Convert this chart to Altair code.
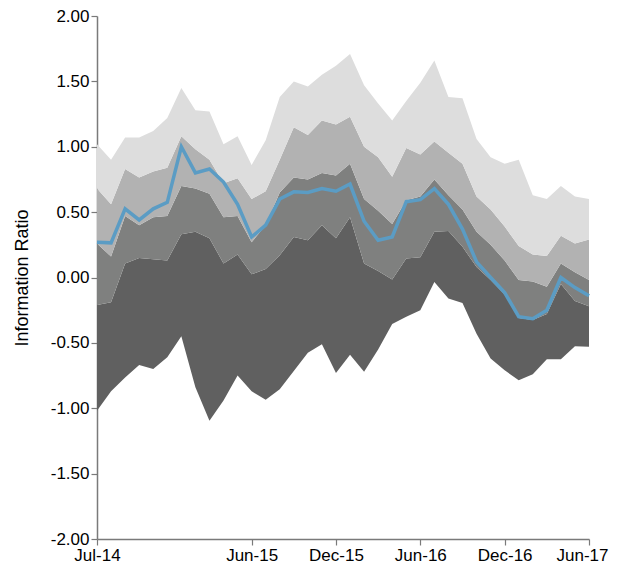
import altair as alt
import pandas as pd

months = ["Jul-14", "Aug-14", "Sep-14", "Oct-14", "Nov-14", "Dec-14",
          "Jan-15", "Feb-15", "Mar-15", "Apr-15", "May-15", "Jun-15",
          "Jul-15", "Aug-15", "Sep-15", "Oct-15", "Nov-15", "Dec-15",
          "Jan-16", "Feb-16", "Mar-16", "Apr-16", "May-16", "Jun-16",
          "Jul-16", "Aug-16", "Sep-16", "Oct-16", "Nov-16", "Dec-16",
          "Jan-17", "Feb-17", "Mar-17", "Apr-17", "May-17", "Jun-17"]

min_v = [-1.02, -0.87, -0.765, -0.67, -0.70, -0.61, -0.45, -0.84, -1.095, -0.94, -0.75, -0.87,
         -0.935, -0.855, -0.715, -0.575, -0.51, -0.73, -0.59, -0.72, -0.55, -0.355, -0.30, -0.25,
         -0.035, -0.16, -0.195, -0.43, -0.62, -0.71, -0.785, -0.74, -0.625, -0.625, -0.525, -0.53]
q25 = [-0.21, -0.19, 0.107, 0.15, 0.14, 0.13, 0.33, 0.35, 0.30, 0.107, 0.175, 0.024,
       0.065, 0.17, 0.31, 0.285, 0.40, 0.30, 0.46, 0.107, 0.05, -0.015, 0.145, 0.155,
       0.35, 0.355, 0.235, 0.08, -0.02, -0.13, -0.31, -0.325, -0.28, -0.05, -0.18, -0.22]
median = [0.26, 0.16, 0.47, 0.40, 0.46, 0.47, 0.70, 0.68, 0.64, 0.46, 0.47, 0.27,
          0.40, 0.65, 0.765, 0.75, 0.80, 0.78, 0.87, 0.60, 0.51, 0.41, 0.59, 0.62,
          0.75, 0.63, 0.52, 0.35, 0.25, 0.13, -0.02, -0.03, -0.07, 0.107, 0.04, -0.02]
q75 = [0.68, 0.56, 0.83, 0.765, 0.81, 0.84, 1.08, 0.98, 0.90, 0.72, 0.76, 0.60,
       0.66, 0.90, 1.15, 1.09, 1.20, 1.17, 1.23, 1.00, 0.92, 0.77, 0.99, 0.94,
       1.04, 0.955, 0.87, 0.62, 0.52, 0.39, 0.24, 0.175, 0.165, 0.32, 0.26, 0.29]
max_v = [1.02, 0.90, 1.07, 1.07, 1.12, 1.22, 1.45, 1.28, 1.27, 1.02, 1.08, 0.86,
         1.05, 1.38, 1.50, 1.46, 1.55, 1.62, 1.71, 1.47, 1.33, 1.20, 1.35, 1.49,
         1.66, 1.38, 1.37, 1.06, 0.92, 0.87, 0.90, 0.63, 0.60, 0.70, 0.62, 0.60]
fund = [0.27, 0.265, 0.525, 0.44, 0.525, 0.575, 1.00, 0.80, 0.83, 0.73, 0.56, 0.31,
        0.40, 0.60, 0.655, 0.65, 0.68, 0.66, 0.715, 0.43, 0.285, 0.31, 0.58, 0.595,
        0.68, 0.56, 0.37, 0.12, 0.0, -0.115, -0.30, -0.315, -0.25, 0.0, -0.077, -0.14]

x_tick_labels = ["Jul-14", "Jun-15", "Dec-15", "Jun-16", "Dec-16", "Jun-17"]
y_ticks = [-2.0, -1.5, -1.0, -0.5, 0.0, 0.5, 1.0, 1.5, 2.0]

bands = ["min-q25", "q25-median", "median-q75", "q75-max"]
band_colors = ["#606060", "#7f807f", "#b2b2b2", "#dddddd"]
bounds = [min_v, q25, median, q75, max_v]

rows = []
for k, b in enumerate(bands):
    for i in range(len(months)):
        rows.append({"i": i, "band": b, "lo": bounds[k][i], "hi": bounds[k + 1][i]})
band_df = pd.DataFrame(rows)
line_df = pd.DataFrame({"i": list(range(len(months))), "v": fund})

x_tick_idx = [months.index(m) for m in x_tick_labels]
last_idx = len(months) - 1
label_expr = "[" + ",".join("'%s'" % m for m in months) + "][datum.value]"

x_enc = alt.X("i:Q",
              scale=alt.Scale(domain=[0, last_idx], nice=False, zero=False),
              axis=alt.Axis(values=x_tick_idx, labelExpr=label_expr, title=None, grid=False,
                            labelFlush=False, labelOverlap=False, labelBound=False,
                            labelOffset=alt.condition("datum.value == %d" % last_idx,
                                                      alt.value(-7), alt.value(0))))
y_axis = alt.Axis(values=y_ticks,
                  labelExpr="(datum.value < 0 ? '-' : '') + format(abs(datum.value), '.2f')",
                  title="Information Ratio", grid=False, labelOverlap=False)

area = alt.Chart(band_df).mark_area(interpolate="linear").encode(
    x=x_enc,
    y=alt.Y("lo:Q", scale=alt.Scale(domain=[-2, 2], nice=False, zero=False), axis=y_axis),
    y2="hi:Q",
    color=alt.Color("band:N", scale=alt.Scale(domain=bands, range=band_colors), legend=None),
    detail="band:N",
)

line = alt.Chart(line_df).mark_line(color="#5b9cc4", strokeWidth=3.5).encode(
    x=alt.X("i:Q"),
    y=alt.Y("v:Q"),
)

chart = alt.layer(area, line).properties(
    width=492,
    height=523,
    padding={"left": 89, "top": 8, "right": 20, "bottom": 24},
    autosize=alt.AutoSizeParams(type="none"),
).configure_view(stroke=None).configure_axis(
    labelFont="Liberation Sans",
    titleFont="Liberation Sans",
    labelFontSize=17,
    titleFontSize=18,
    titleFontWeight="normal",
    labelColor="#000000",
    titleColor="#000000",
    domainColor="#7a7a7a",
    tickColor="#7a7a7a",
    domainWidth=1.5,
    tickWidth=1.2,
    tickSize=6,
    labelPadding=2,
    titlePadding=19,
)

chart.save("out.html", embed_options={"renderer": "svg", "actions": False})
